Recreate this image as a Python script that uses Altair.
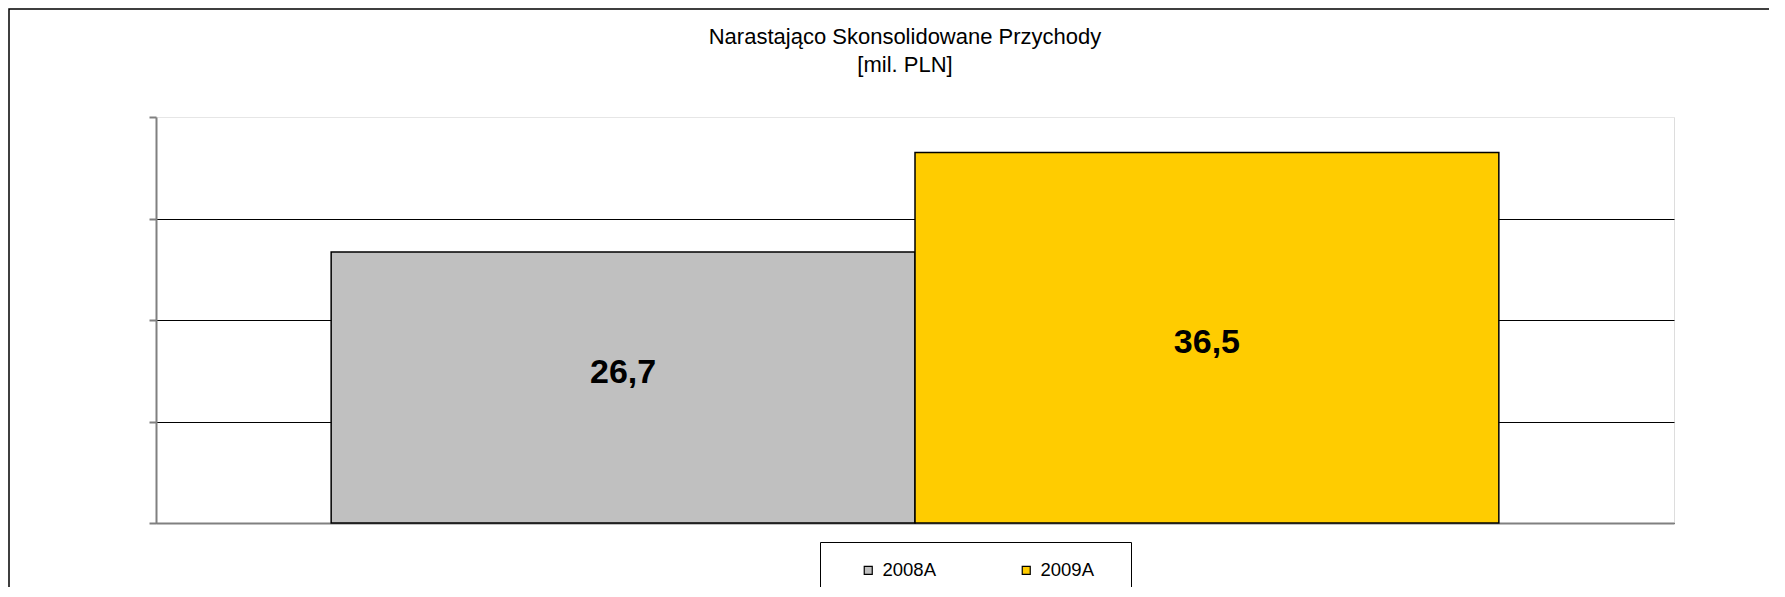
import altair as alt
import pandas as pd

series = ["2008A", "2009A"]
values = [26.7, 36.5]
colors = ["#C0C0C0", "#FFCC00"]
y_ticks = [0, 10, 20, 30, 40]
title_lines = ["Narastająco Skonsolidowane Przychody", "[mil. PLN]"]

df = pd.DataFrame({"series": series, "value": values})

W, H = 1518, 406
FONT = "Liberation Sans"

x_enc = alt.X("series:N", sort=series,
              scale=alt.Scale(paddingInner=0, paddingOuter=0.3),
              axis=alt.Axis(labels=False, ticks=False, title=None,
                            domainColor="#808080", domainWidth=2, grid=False))
y_enc = alt.Y("value:Q", scale=alt.Scale(domain=[0, 40], nice=False),
              axis=alt.Axis(values=y_ticks, labels=False, title=None,
                            tickSize=7, tickColor="#808080", tickWidth=2,
                            domainColor="#808080", domainWidth=2,
                            grid=True, gridWidth=1,
                            gridColor=alt.condition("datum.value == 40",
                                                    alt.value("#e6e6e6"),
                                                    alt.value("#000000"))))

base = alt.Chart(df)

bars = base.mark_bar(stroke="black", strokeWidth=1.5).encode(
    x=x_enc,
    y=y_enc,
    color=alt.Color("series:N", sort=series,
                    scale=alt.Scale(domain=series, range=colors),
                    legend=alt.Legend(orient="none", legendX=703, legendY=444,
                                      direction="horizontal", title=None,
                                      symbolType="square", symbolSize=64,
                                      symbolStrokeColor="black", symbolStrokeWidth=1.2,
                                      symbolOpacity=1,
                                      labelFont=FONT, labelFontSize=18.5,
                                      labelColor="black", labelOffset=5,
                                      columnPadding=81, padding=0)),
)

label_base = base.transform_calculate(
    mid="datum.value / 2",
    label="replace(format(datum.value, '.1f'), '.', ',')",
)

labels_a = label_base.transform_filter(alt.datum.series == series[0]).mark_text(
    font=FONT, fontSize=34, fontWeight="bold", color="black",
    baseline="middle", align="center", dy=-14,
).encode(x=alt.X("series:N", sort=series), y=alt.Y("mid:Q"), text="label:N")

labels_b = label_base.transform_filter(alt.datum.series == series[1]).mark_text(
    font=FONT, fontSize=34, fontWeight="bold", color="black",
    baseline="middle", align="center", dy=5,
).encode(x=alt.X("series:N", sort=series), y=alt.Y("mid:Q"), text="label:N")

frame = alt.Chart(pd.DataFrame({"k": ["frame"]})).mark_rect(
    fillOpacity=0, stroke="black", strokeWidth=1.5
).encode(x=alt.value(-147), x2=alt.value(1700), y=alt.value(-108), y2=alt.value(600))

legend_box = alt.Chart(pd.DataFrame({"k": ["legend"]})).mark_rect(
    fillOpacity=0, stroke="black", strokeWidth=1
).encode(x=alt.value(664.5), x2=alt.value(975.5), y=alt.value(425.5), y2=alt.value(520))

chart = alt.layer(frame, legend_box, bars, labels_a, labels_b).resolve_scale(
    x="shared", y="shared"
).properties(
    width=W, height=H,
    autosize=alt.AutoSizeParams(type="none"),
    padding={"left": 148, "top": 109, "right": 95, "bottom": 64},
    title=alt.TitleParams(text=title_lines, font=FONT, fontSize=22,
                          fontWeight="normal", color="black", anchor="middle",
                          dx=-10, lineHeight=28, baseline="top", offset=-68.5),
).configure_view(stroke=None).configure(background="white")

chart.save("out.html", embed_options={"renderer": "svg", "actions": False})
